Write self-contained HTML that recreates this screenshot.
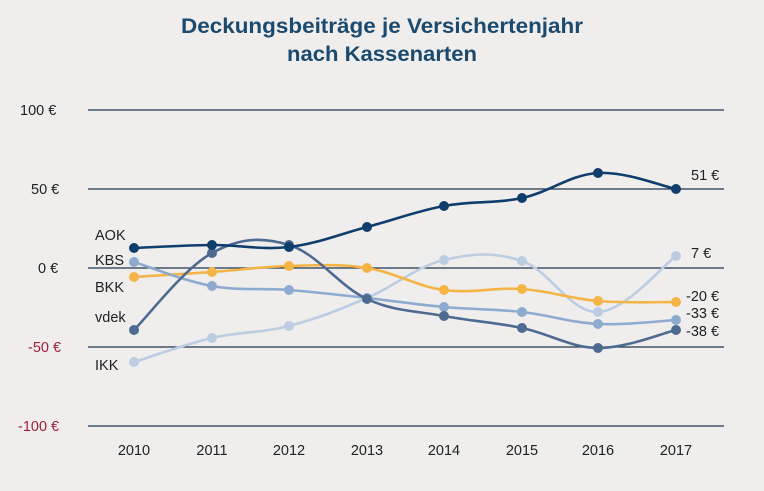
<!DOCTYPE html>
<html><head><meta charset="utf-8"><style>
html,body{margin:0;padding:0;background:#efeeed;}
svg{display:block;font-family:"Liberation Sans",sans-serif;}
</style></head><body>
<svg id="s" width="764" height="491" viewBox="0 0 764 491">
<rect width="764" height="491" fill="#efeeed"/>
<text x="382" y="33" text-anchor="middle" font-size="21" font-weight="bold" fill="#1b4a6e" textLength="402" lengthAdjust="spacingAndGlyphs">Deckungsbeiträge je Versichertenjahr</text>
<text x="382" y="61" text-anchor="middle" font-size="21" font-weight="bold" fill="#1b4a6e" textLength="190" lengthAdjust="spacingAndGlyphs">nach Kassenarten</text>
<g stroke="#1d3550" stroke-width="1.2">
<line x1="88" y1="110" x2="724" y2="110"/><line x1="88" y1="189" x2="724" y2="189"/>
<line x1="88" y1="268" x2="724" y2="268"/><line x1="88" y1="347" x2="724" y2="347"/>
<line x1="88" y1="426" x2="724" y2="426"/></g>
<g font-size="14.5" fill="#222">
<text x="20" y="115">100 €</text><text x="31" y="194">50 €</text><text x="38" y="273">0 €</text>
<text x="28" y="352" fill="#a0203a">-50 €</text><text x="18" y="431" fill="#a0203a">-100 €</text>
<g text-anchor="middle"><text x="134" y="455">2010</text><text x="212" y="455">2011</text><text x="289" y="455">2012</text><text x="367" y="455">2013</text><text x="444" y="455">2014</text><text x="522" y="455">2015</text><text x="598" y="455">2016</text><text x="676" y="455">2017</text></g>
<text x="95" y="240">AOK</text><text x="95" y="265">KBS</text><text x="95" y="292">BKK</text><text x="95" y="322">vdek</text><text x="95" y="370">IKK</text>
<text x="691" y="180">51 €</text><text x="691" y="258">7 €</text><text x="686" y="301">-20 €</text><text x="686" y="318">-33 €</text><text x="686" y="336">-38 €</text>
</g>
<g id="g"></g>
</svg>
<script>
var X=[134,212,289,367,444,522,598,676];
var S=[
["#bccde3",[362,338,326,298,260,261,312,256]],
["#f5b446",[277,272,266,268,290,289,301,302]],
["#8eabcf",[262,286,290,298,307,312,324,320]],
["#4d6a90",[330,253,245,299,316,328,348,330]],
["#0f3d6c",[248,245,247,227,206,198,173,189]]];
var g=document.getElementById('g'),h='';
S.forEach(function(s){var y=s[1],d='M'+X[0]+','+y[0];
for(var i=0;i<7;i++){var p0=i?i-1:0,p3=i<6?i+2:7,t=0.18;
var c1x=X[i]+(X[i+1]-X[p0])*t,c1y=y[i]+(y[i+1]-y[p0])*t,c2x=X[i+1]-(X[p3]-X[i])*t,c2y=y[i+1]-(y[p3]-y[i])*t;
d+=' C'+c1x+','+c1y+' '+c2x+','+c2y+' '+X[i+1]+','+y[i+1];}
h+='<path d="'+d+'" fill="none" stroke="'+s[0]+'" stroke-width="2.6"/>';
for(var i=0;i<8;i++)h+='<circle cx="'+X[i]+'" cy="'+y[i]+'" r="5" fill="'+s[0]+'"/>';});
g.innerHTML=h;
</script>
</body></html>
